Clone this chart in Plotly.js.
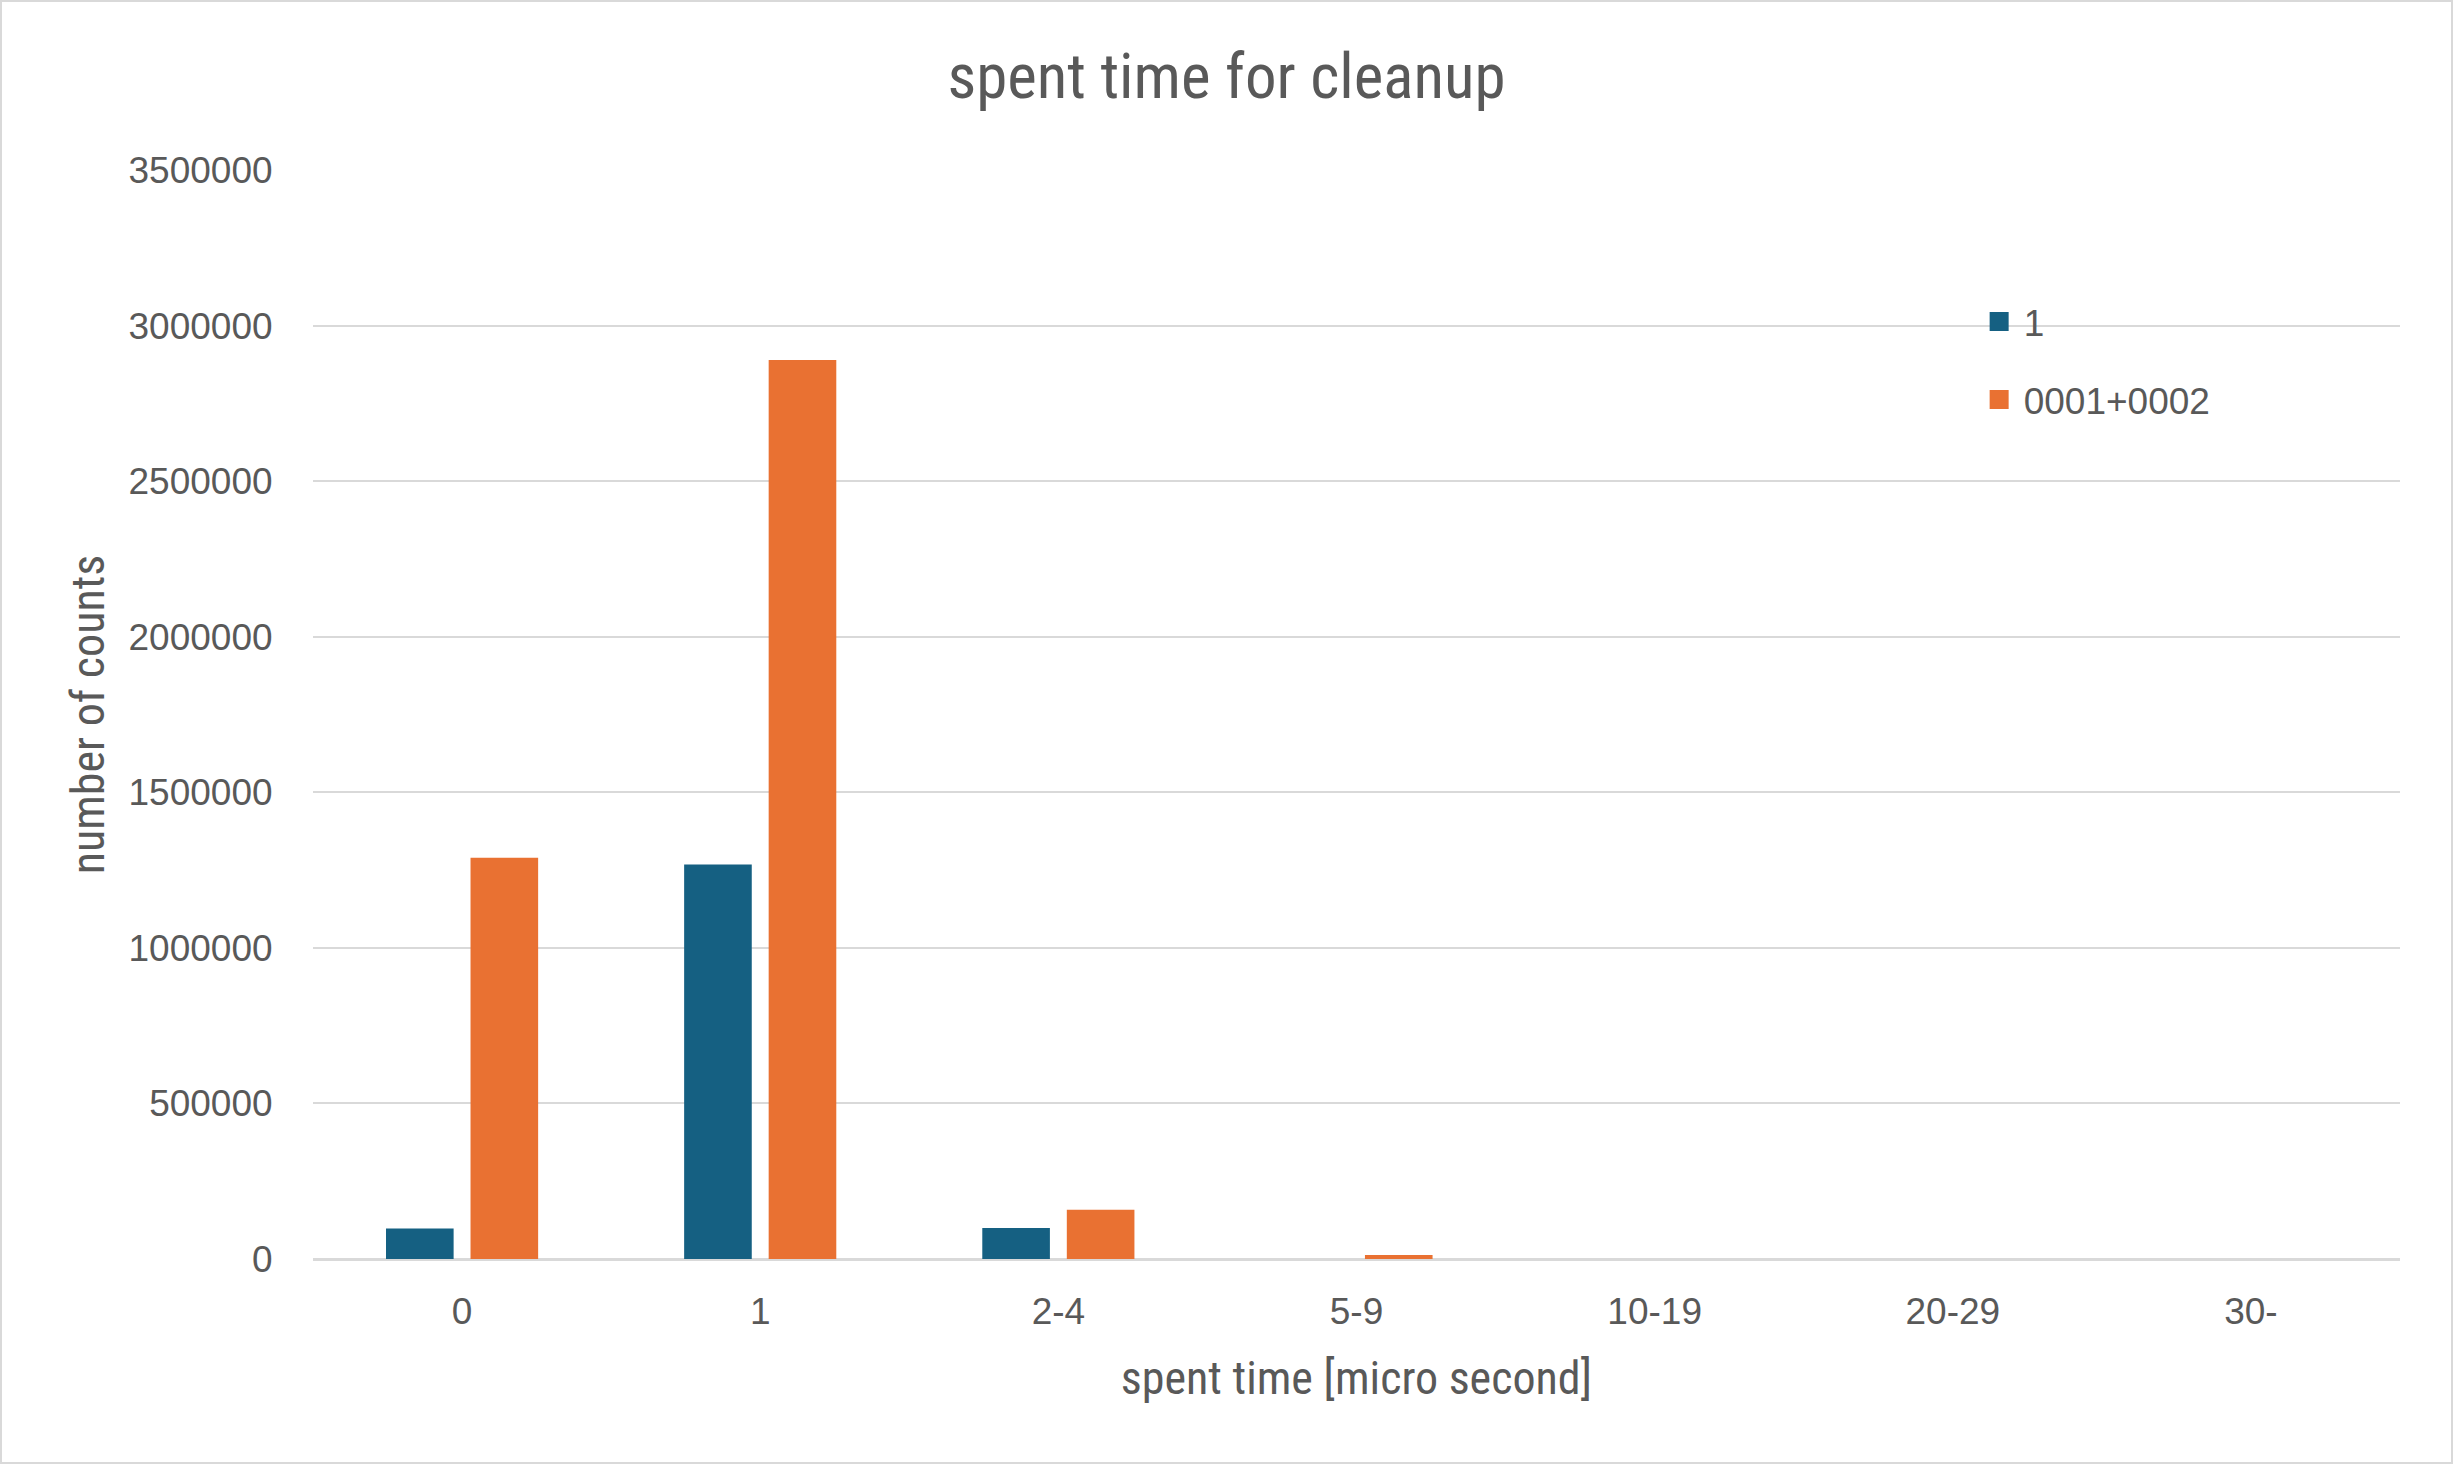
<!DOCTYPE html>
<html>
<head>
<meta charset="utf-8">
<script src="https://cdn.plot.ly/plotly-3.0.1.min.js"></script>
<style>
  html, body { margin: 0; padding: 0; background: #ffffff; }
  #wrap { width: 2453px; height: 1464px; box-sizing: border-box; border: 2px solid #d9d9d9; position: relative; overflow: hidden; }
  #chart { width: 2449px; height: 1460px; }
</style>
</head>
<body>
<div id="wrap"><div id="chart"></div></div>
<script>
const categories = ["0", "1", "2-4", "5-9", "10-19", "20-29", "30-"];
const series1Name = "1";
const series1Values = [98000, 1268000, 100000, 0, 0, 0, 0];
const series2Name = "0001+0002";
const series2Values = [1290000, 2889000, 158000, 13000, 0, 0, 0];
const yTickValues = [0, 500000, 1000000, 1500000, 2000000, 2500000, 3000000, 3500000];
const yTickLabels = ["0", "500000", "1000000", "1500000", "2000000", "2500000", "3000000", "3500000"];

const textColor = "#595959";
const gridColor = "#d9d9d9";
const narrow = "'Liberation Sans Narrow', 'Roboto Condensed', 'Arial Narrow', 'Liberation Sans', sans-serif";
const regular = "'Liberation Sans', Arial, sans-serif";

const traces = [
  {
    type: "bar", name: series1Name, x: categories, y: series1Values,
    marker: { color: "#156082", line: { width: 0 } },
    legendgroup: "a", hoverinfo: "x+y+name"
  },
  {
    type: "bar", name: series2Name, x: categories, y: series2Values,
    marker: { color: "#E97132", line: { width: 0 } },
    legendgroup: "b", hoverinfo: "x+y+name"
  }
];

const layout = {
  width: 2449, height: 1460,
  paper_bgcolor: "#ffffff", plot_bgcolor: "#ffffff",
  margin: { l: 311, r: 51, t: 168, b: 203, pad: 0 },
  barmode: "group", bargap: 0.433, bargroupgap: 0.2,
  title: {
    text: "spent time for cleanup",
    font: { family: narrow, size: 63, color: textColor },
    x: 0.5, xanchor: "center", xref: "container",
    y: 1 - 74 / 1460, yanchor: "middle", yref: "container"
  },
  xaxis: {
    type: "category",
    title: { text: "spent time [micro second]", font: { family: narrow, size: 46, color: textColor }, standoff: 30 },
    tickfont: { family: regular, size: 37, color: textColor },
    showgrid: false, showline: false, zeroline: false,
    ticks: "outside", ticklen: 20, tickcolor: "rgba(0,0,0,0)",
    fixedrange: true
  },
  yaxis: {
    range: [0, 3500000],
    tickmode: "array", tickvals: yTickValues, ticktext: yTickLabels,
    title: { text: "number of counts", font: { family: narrow, size: 46, color: textColor }, standoff: 9 },
    tickfont: { family: regular, size: 37, color: textColor },
    showgrid: true, gridcolor: gridColor, gridwidth: 2,
    zeroline: true, zerolinecolor: gridColor, zerolinewidth: 3,
    showline: false,
    ticks: "outside", ticklen: 32, tickcolor: "rgba(0,0,0,0)",
    fixedrange: true
  },
  showlegend: true,
  legend: {
    x: 0.8005, xanchor: "left", y: 0.889, yanchor: "top",
    font: { family: regular, size: 37, color: textColor },
    bgcolor: "rgba(0,0,0,0)", borderwidth: 0,
    traceorder: "grouped", tracegroupgap: 27, itemwidth: 30,
    itemclick: false, itemdoubleclick: false
  }
};

Plotly.newPlot("chart", traces, layout, { displayModeBar: false, staticPlot: true }).then(function () {
  document.querySelectorAll(".legendpoints path").forEach(function (p) {
    p.removeAttribute("transform");
    p.setAttribute("d", "M25,9.5H6V-9.5H25Z");
    p.style.strokeWidth = "0px";
  });
});
</script>
</body>
</html>
